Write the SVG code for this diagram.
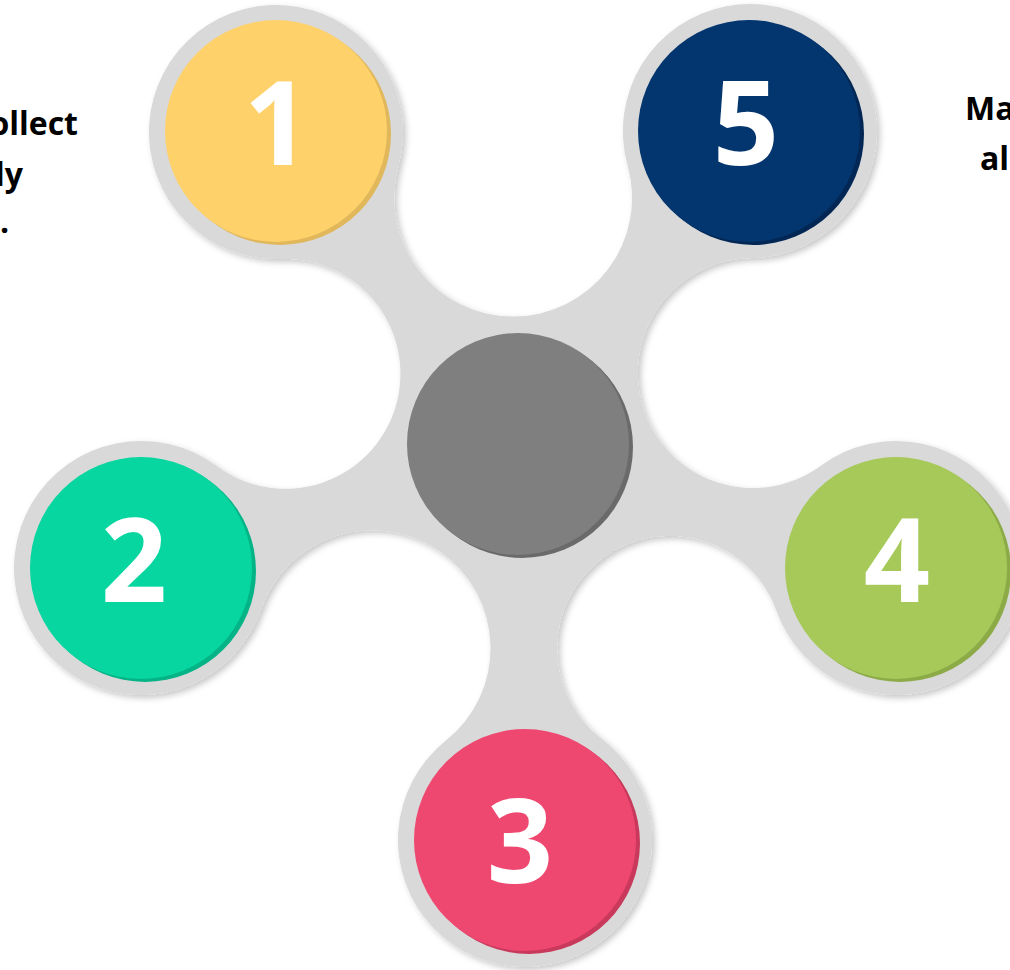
<svg xmlns="http://www.w3.org/2000/svg" width="1010" height="970" viewBox="0 0 1010 970">
  <defs>
    <filter id="shadow" x="-10%" y="-10%" width="120%" height="120%">
      <feDropShadow dx="3" dy="3" stdDeviation="3" flood-color="#000" flood-opacity="0.22"/>
    </filter>
  </defs>
  <style>
    .body { fill: #D9D9D9; }
    .num { font-family: "Open Sans", "Liberation Sans", sans-serif; font-weight: 700; font-size: 116px; fill: #FFFFFF; text-anchor: middle; }
    .side { font-family: "Open Sans", "Liberation Sans", sans-serif; font-weight: 700; font-size: 32px; fill: #000000; }
  </style>
  <rect width="1010" height="970" fill="#FFFFFF"/>

  <g id="connectors">
    <path class="body" filter="url(#shadow)" d="M 281,258.9
      A 127 127 0 1 1 398.4,165.8
      A 119 119 0 1 0 627.6,165.3
      A 127 127 0 1 1 751.5,258
      A 115 115 0 1 0 820.8,465.7
      A 127 127 0 1 1 776.4,610.7
      A 113 113 0 1 0 601.7,738.8
      A 127 127 0 1 1 445.9,740.6
      A 118 118 0 1 0 261,609.6
      A 127 127 0 1 1 216.8,466.1
      A 115 115 0 1 0 281,258.9 Z"/>
  </g>

  <g id="node-center">
    <circle cx="522" cy="447" r="111" fill="#6A6A6A"/>
    <circle cx="518" cy="444" r="111" fill="#7F7F7F"/>
  </g>

  <g id="node-1">
    <circle cx="280" cy="134" r="111" fill="#E0B75A"/>
    <circle cx="276" cy="131" r="111" fill="#FED16B"/>
    <text class="num" x="277" y="165">1</text>
  </g>

  <g id="node-5">
    <circle cx="753" cy="134" r="111" fill="#022754"/>
    <circle cx="749" cy="131" r="111" fill="#03366E"/>
    <text class="num" x="746" y="165">5</text>
  </g>

  <g id="node-2">
    <circle cx="145" cy="571" r="111" fill="#05B486"/>
    <circle cx="141" cy="568" r="111" fill="#07D6A0"/>
    <text class="num" x="134" y="602">2</text>
  </g>

  <g id="node-4">
    <circle cx="900" cy="571" r="111" fill="#8CAB47"/>
    <circle cx="896" cy="568" r="111" fill="#A6C95A"/>
    <text class="num" x="897" y="602">4</text>
  </g>

  <g id="node-3">
    <circle cx="529" cy="843" r="111" fill="#C9395C"/>
    <circle cx="525" cy="840" r="111" fill="#EF4870"/>
    <text class="num" x="520" y="883">3</text>
  </g>

  <g id="label-left">
    <text class="side" x="78" y="135" text-anchor="end">ollect</text>
    <text class="side" x="23" y="186" text-anchor="end">ly</text>
    <text class="side" x="9" y="233" text-anchor="end">.</text>
  </g>

  <g id="label-right">
    <text class="side" x="965" y="120">Ma</text>
    <text class="side" x="980" y="170">al</text>
  </g>
</svg>
